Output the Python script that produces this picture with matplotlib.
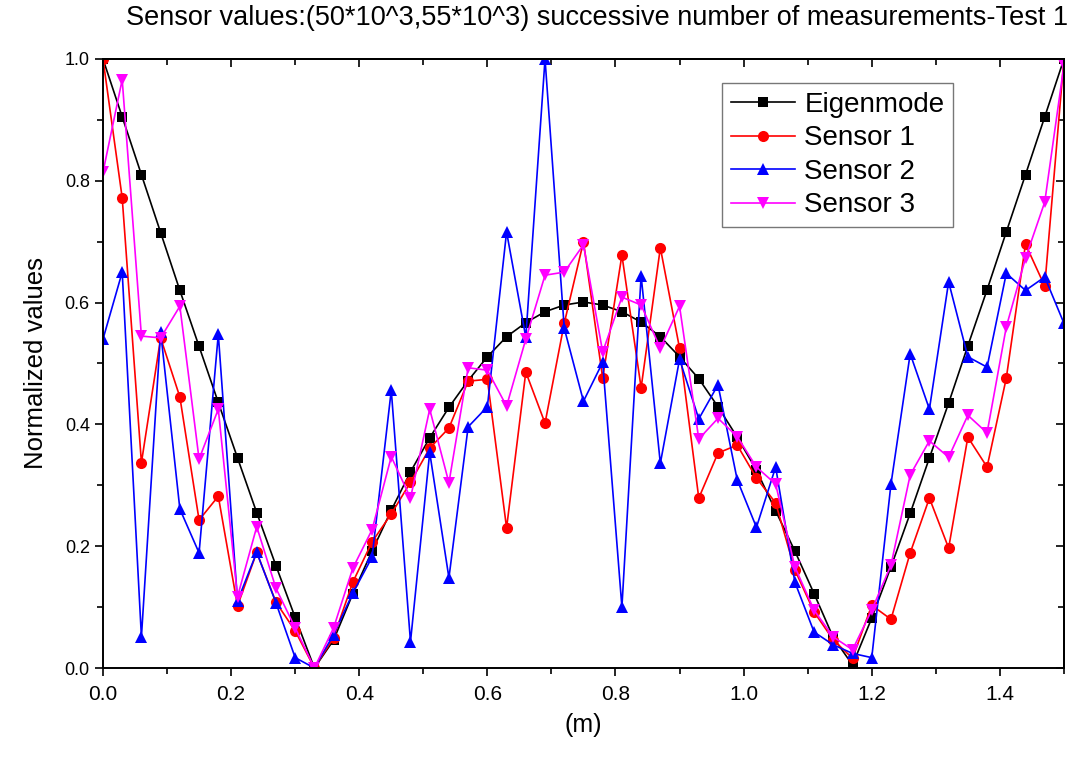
import matplotlib
matplotlib.use("Agg")
import matplotlib.pyplot as plt
from matplotlib.ticker import MultipleLocator, FormatStrFormatter

# Measurement positions along the beam (m)
positions = [round(0.03 * k, 2) for k in range(51)]

eigenmode = [1.0, 0.905, 0.81, 0.715, 0.62, 0.528, 0.436, 0.345, 0.255, 0.168, 0.083, 0.0,
             0.046, 0.122, 0.192, 0.259, 0.322, 0.378, 0.428, 0.472, 0.511, 0.544, 0.567,
             0.585, 0.596, 0.601, 0.596, 0.585, 0.568, 0.544, 0.511, 0.475, 0.429, 0.379,
             0.325, 0.258, 0.192, 0.122, 0.05, 0.005, 0.082, 0.166, 0.254, 0.345, 0.435,
             0.529, 0.621, 0.716, 0.81, 0.905, 1.0]

sensor1 = [1.0, 0.772, 0.337, 0.542, 0.445, 0.243, 0.282, 0.102, 0.19, 0.108, 0.061, 0.0,
           0.05, 0.141, 0.207, 0.253, 0.305, 0.361, 0.394, 0.471, 0.474, 0.23, 0.486,
           0.402, 0.566, 0.70, 0.476, 0.678, 0.46, 0.69, 0.525, 0.279, 0.353, 0.366,
           0.312, 0.271, 0.161, 0.092, 0.046, 0.016, 0.103, 0.08, 0.189, 0.279, 0.197,
           0.379, 0.33, 0.476, 0.696, 0.627, 1.0]

sensor2 = [0.54, 0.65, 0.051, 0.552, 0.261, 0.189, 0.548, 0.11, 0.19, 0.107, 0.017, 0.0,
           0.055, 0.123, 0.182, 0.456, 0.043, 0.354, 0.148, 0.396, 0.429, 0.716, 0.543,
           1.0, 0.558, 0.438, 0.502, 0.1, 0.644, 0.336, 0.507, 0.409, 0.465, 0.309,
           0.231, 0.33, 0.141, 0.059, 0.038, 0.024, 0.017, 0.302, 0.516, 0.425, 0.634,
           0.511, 0.494, 0.648, 0.62, 0.642, 0.566]

sensor3 = [0.814, 0.966, 0.545, 0.542, 0.594, 0.343, 0.425, 0.117, 0.232, 0.131, 0.066, 0.0,
           0.066, 0.164, 0.227, 0.347, 0.279, 0.425, 0.304, 0.493, 0.489, 0.43, 0.54,
           0.645, 0.65, 0.695, 0.519, 0.609, 0.596, 0.525, 0.594, 0.376, 0.41, 0.38,
           0.33, 0.302, 0.166, 0.095, 0.051, 0.03, 0.095, 0.169, 0.317, 0.373, 0.346,
           0.415, 0.386, 0.56, 0.673, 0.765, 0.99]

series = [
    ("Eigenmode", eigenmode, "#000000", "s", 7.0),
    ("Sensor 1", sensor1, "#ff0000", "o", 8.0),
    ("Sensor 2", sensor2, "#0000ff", "^", 8.5),
    ("Sensor 3", sensor3, "#ff00ff", "v", 8.5),
]

plt.rcParams["font.family"] = ["Liberation Sans", "DejaVu Sans"]

fig = plt.figure(figsize=(10.84, 7.63), dpi=100)
ax = fig.add_axes([0.095, 0.1245, 0.8865, 0.7982])

for name, vals, col, mk, ms in series:
    ax.plot(positions, vals, color=col, marker=mk, markersize=ms, linewidth=1.2,
            label=name, markeredgewidth=0)

ax.set_xlim(0, 1.5)
ax.set_ylim(0, 1.0)
ax.xaxis.set_major_locator(MultipleLocator(0.2))
ax.xaxis.set_minor_locator(MultipleLocator(0.1))
ax.yaxis.set_major_locator(MultipleLocator(0.2))
ax.yaxis.set_minor_locator(MultipleLocator(0.1))
ax.xaxis.set_major_formatter(FormatStrFormatter("%.1f"))
ax.yaxis.set_major_formatter(FormatStrFormatter("%.1f"))

ax.tick_params(which="major", direction="out", length=6, width=1.2)
ax.tick_params(which="minor", direction="out", length=4, width=1.2)
ax.tick_params(axis="y", labelsize=13)
ax.tick_params(axis="x", labelsize=15, pad=6)

# Mirrored inward ticks on the top and right frame
top = ax.secondary_xaxis("top")
top.xaxis.set_major_locator(MultipleLocator(0.2))
top.xaxis.set_minor_locator(MultipleLocator(0.1))
top.tick_params(which="both", direction="in", labeltop=False, width=1.2)
top.tick_params(which="major", length=6)
top.tick_params(which="minor", length=4)
right = ax.secondary_yaxis("right")
right.yaxis.set_major_locator(MultipleLocator(0.2))
right.yaxis.set_minor_locator(MultipleLocator(0.1))
right.tick_params(which="both", direction="in", labelright=False, width=1.2)
right.tick_params(which="major", length=6)
right.tick_params(which="minor", length=4)

for sp in list(ax.spines.values()) + [top.spines["top"], right.spines["right"]]:
    sp.set_linewidth(1.4)

ax.set_ylabel("Normalized values", fontsize=18.5, labelpad=12)
ax.set_xlabel("(m)", fontsize=18, labelpad=7)

fig.text(0.551, 0.976, "Sensor values:(50*10^3,55*10^3) successive number of measurements-Test 1",
         ha="center", va="center", fontsize=19.5)

leg = ax.legend(loc="upper left", bbox_to_anchor=(0.644, 0.9606), fontsize=20,
                frameon=True, fancybox=False, edgecolor="#555555", handlelength=2.3,
                borderpad=0.32, labelspacing=0.27, handletextpad=0.35, borderaxespad=0.0)
leg.get_frame().set_linewidth(1.0)

fig.savefig("out.png", dpi=100, facecolor="white")
